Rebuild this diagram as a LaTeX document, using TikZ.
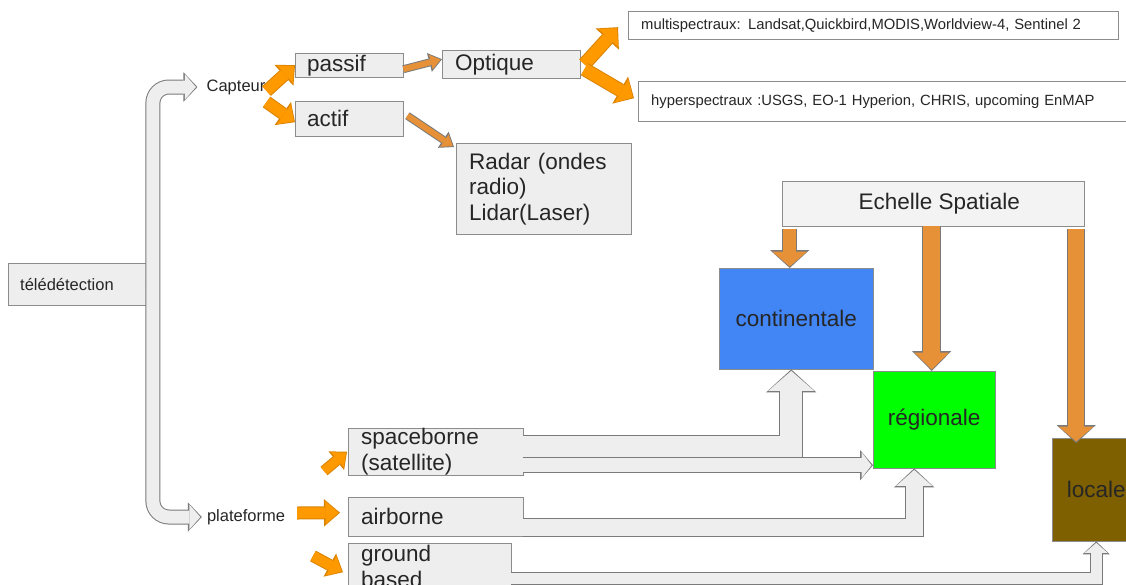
\documentclass[tikz,border=0pt]{standalone}
\usepackage{fontspec}
\setmainfont{Liberation Sans}
\usetikzlibrary{arrows.meta}
\definecolor{boxfill}{HTML}{EEEEEE}
\definecolor{boxline}{HTML}{8C8C8C}
\definecolor{echfill}{HTML}{F3F3F3}
\definecolor{hollowfill}{HTML}{EEEEEE}
\definecolor{hollowline}{HTML}{7A7A7A}
\definecolor{brightorange}{HTML}{FF9900}
\definecolor{mutedorange}{HTML}{E69138}
\definecolor{contblue}{HTML}{4285F4}
\definecolor{reggreen}{HTML}{00FF00}
\definecolor{locbrown}{HTML}{7F6000}
\newcommand\txtL{\fontsize{22.5}{25.5}\selectfont}
\newcommand\txtM{\fontsize{16.5}{19}\selectfont}
\newcommand\txtS{\fontsize{14.8}{17}\selectfont}

\begin{document}
\begin{tikzpicture}[x=1pt, y=-1pt]
	\tikzset{
		box/.style={draw=boxline, fill=boxfill, anchor=north west, align=left, inner ysep=0pt, text=black!85},
		cbox/.style={draw=boxline, anchor=north west, align=center, inner sep=0pt, text=black!85, font=\txtL},
		lbl/.style={inner sep=0pt, text=black!85, font=\txtM},
		blk/.style n args={5}{preaction={draw=#5, line width=#1+2pt, shorten >=0pt, -{Triangle[length=#2+3pt, width=#3+4.4pt, line width=0pt]}}, draw=#4, line width=#1, shorten >=1.5pt, -{Triangle[length=#2, width=#3, line width=0pt]}},
		hollow/.style n args={3}{blk={#1}{#2}{#3}{hollowfill}{hollowline}},
		brightarr/.style n args={3}{blk={#1}{#2}{#3}{brightorange}{brightorange!85!black}},
		mutedarr/.style n args={3}{blk={#1}{#2}{#3}{mutedorange}{hollowline}}
	}
	\useasboundingbox (0,0) rectangle (1126,584);

	\node[box, font=\txtM, inner xsep=12pt, text width=114pt, minimum height=42pt] (tele) at (8,263) {télédétection};
	\node[lbl] (capteur) at (236,87) {Capteur};
	\node[lbl] (plateforme) at (246,517) {plateforme};
	\node[box, font=\txtL, inner xsep=12pt, text width=84pt, minimum height=24pt] (passif) at (295,53) {passif};
	\node[box, font=\txtL, inner xsep=12pt, text width=84pt, minimum height=35pt] (actif) at (295,101) {actif};
	\node[box, font=\txtL, inner xsep=13pt, text width=112pt, minimum height=28pt] (optique) at (442,50) {Optique};
	\node[box, font=\txtL, inner xsep=13pt, text width=149pt, minimum height=91pt] (radar) at (456,143) {Radar (ondes\\radio)\\Lidar(Laser)};
	\node[box, fill=white, font=\txtS, inner xsep=13pt, text width=464pt, minimum height=28pt] (multi) at (628,11) {multispectraux: Landsat,Quickbird,MODIS,Worldview-4, Sentinel 2};
	\node[box, fill=white, font=\txtS, inner xsep=13pt, text width=474pt, minimum height=40pt] (hyper) at (638,81) {hyperspectraux :USGS, EO-1 Hyperion, CHRIS, upcoming EnMAP};
	\node[cbox, fill=echfill, minimum width=302pt, minimum height=45pt] (echelle) at (782,181) {\hspace*{12pt}Echelle Spatiale};
	\node[cbox, fill=contblue, minimum width=154pt, minimum height=101pt] (continentale) at (719,268) {continentale};
	\node[cbox, fill=reggreen, minimum width=122pt, minimum height=97pt] (regionale) at (873,371) {régionale};
	\node[cbox, fill=locbrown, minimum width=88pt, minimum height=103pt] (locale) at (1052,438) {locale};
	\node[box, font=\txtL, inner xsep=13pt, text width=149pt, minimum height=47pt] (spaceborne) at (348,428) {spaceborne\\(satellite)};
	\node[box, font=\txtL, inner xsep=13pt, text width=149pt, minimum height=39pt] (airborne) at (348,497) {airborne};
	\node[box, font=\txtL, inner xsep=13pt, text width=137pt, minimum height=46pt] (ground) at (348,543) {ground\\based};
	\coordinate (sbfoot) at (324,471);
	\coordinate (gbfoot) at (313,556);

	\draw[hollow={13pt}{11pt}{25pt}, rounded corners=16pt] ([xshift=6.5pt]tele.east) |- ([xshift=-9pt]capteur.west);
	\draw[hollow={13pt}{11pt}{25pt}, rounded corners=16pt] ([xshift=6.5pt]tele.east) |- ([xshift=-5pt]plateforme.west);
	\draw[hollow={22pt}{20pt}{46pt}] ([yshift=4.5pt]spaceborne.east) -| ([xshift=-5pt]continentale.south);
	\draw[hollow={13.5pt}{10pt}{26pt}] ([yshift=-13.5pt]spaceborne.east) -- ([yshift=-13.5pt]spaceborne.east -| regionale.west);
	\draw[hollow={17pt}{16pt}{36pt}] ([yshift=-10.5pt]airborne.east) -| ([xshift=-20pt]regionale.south);
	\draw[hollow={11pt}{10pt}{23pt}] ([yshift=-12pt]ground.east) -| (locale.south);

	\draw[brightarr={11pt}{12pt}{24pt}] ([xshift=1pt,yshift=-4pt]capteur.east) -- (passif.west);
	\draw[brightarr={11pt}{12pt}{24pt}] ([xshift=1pt,yshift=-15pt]capteur.east) -- ([yshift=-3.5pt]actif.west);
	\draw[mutedarr={6pt}{10pt}{15pt}] ([yshift=-4pt]passif.east) -- ([yshift=5pt]optique.west);
	\draw[mutedarr={6pt}{10pt}{15pt}] ([xshift=4pt,yshift=3pt]actif.east) -- ([xshift=-2pt,yshift=-4pt]radar.north west);
	\draw[brightarr={12pt}{13pt}{27pt}] ([xshift=4pt]optique.east) -- ([xshift=-10pt,yshift=-2pt]multi.west);
	\draw[brightarr={12pt}{13pt}{27pt}] ([xshift=4pt,yshift=-5pt]optique.east) -- ([xshift=-4pt,yshift=3pt]hyper.west);
	\draw[mutedarr={13pt}{15pt}{35pt}] ([xshift=-143.5pt,yshift=-3pt]echelle.south) -- ([xshift=-6.5pt]continentale.north);
	\draw[mutedarr={17pt}{17pt}{35pt}] ([xshift=-1.5pt]echelle.south) -- ([xshift=-2.5pt]regionale.north);
	\draw[mutedarr={16pt}{15pt}{35pt}] ([xshift=143pt,yshift=-3pt]echelle.south) -- ([xshift=-20pt,yshift=-5pt]locale.north);
	\draw[brightarr={9pt}{11pt}{20pt}] (sbfoot) -- ([xshift=-1pt]spaceborne.west);
	\draw[brightarr={11pt}{13pt}{23pt}] ([xshift=12pt,yshift=4pt]plateforme.east) -- ([xshift=-8pt,yshift=4pt]airborne.west);
	\draw[brightarr={10pt}{12pt}{22pt}] (gbfoot) -- ([xshift=-5pt,yshift=-6pt]ground.west);
\end{tikzpicture}
\end{document}
